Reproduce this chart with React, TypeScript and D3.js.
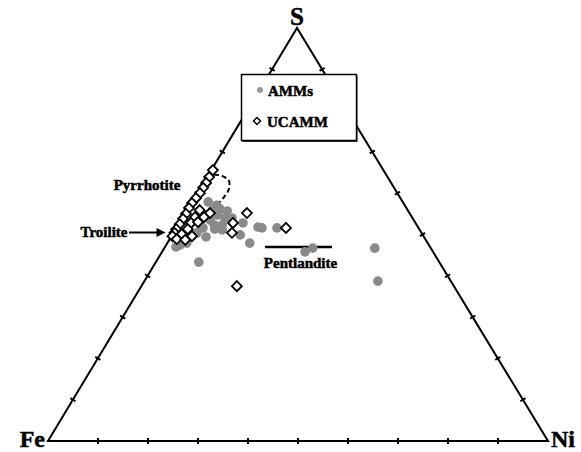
import React from 'react';
import * as d3 from 'd3';

const W = 581;
const H = 452;

// Ternary compositions (at.%)
const ammsFe = [38.9, 37.6, 39.0, 37.4, 38.6, 37.5, 36.2, 38.9, 40.5, 43.1, 34.5, 32.0, 28.3, 36.5, 39.5, 35.6, 25.6, 23.6, 11.2, 14.6, 48.1, 49.7, 48.2, 44.9, 43.6, 40.9, 36.1, 31.3, 50.8, 40.7, 41.2];
const ammsNi = [3.2, 5.3, 5.1, 6.4, 6.7, 8.5, 8.1, 8.8, 7.2, 5.3, 12.7, 16.2, 20.1, 13.6, 9.4, 16.5, 28.6, 29.7, 42.1, 46.7, 8.6, 2.8, 3.9, 4.7, 7.0, 7.8, 9.9, 17.1, 2.2, 5.8, 4.1];
const ammsS = [57.9, 57.1, 55.9, 56.2, 54.7, 54.0, 55.7, 52.3, 52.3, 51.6, 52.8, 51.8, 51.6, 49.9, 51.1, 47.9, 45.8, 46.7, 46.7, 38.7, 43.3, 47.5, 47.9, 50.4, 49.4, 51.3, 54.0, 51.6, 47.0, 53.5, 54.7];

const ucammFe = [34.1, 35.7, 37.0, 38.2, 39.5, 40.9, 42.3, 43.5, 41.6, 39.9, 44.8, 43.4, 46.0, 44.9, 47.3, 46.3, 48.6, 43.4, 49.4, 48.1, 50.2, 49.7, 48.1, 46.3, 32.5, 36.5, 37.9, 26.5, 43.4, 41.6];
const ucammNi = [0.3, 0.4, 0.5, 0.5, 0.5, 0.3, 0.1, 0.1, 2.5, 4.9, 0.2, 2.4, 0.2, 2.3, 0.2, 2.4, 0.1, 3.6, 0.2, 1.8, 0.2, 1.4, 3.2, 4.1, 12.3, 10.7, 11.7, 21.9, 19.1, 4.2];
const ucammS = [65.6, 63.9, 62.5, 61.3, 60.0, 58.8, 57.6, 56.4, 55.9, 55.2, 55.0, 54.2, 53.8, 52.8, 52.5, 51.3, 51.3, 53.0, 50.4, 50.1, 49.6, 48.9, 48.7, 49.6, 55.2, 52.8, 50.4, 51.6, 37.5, 54.2];

// Pentlandite field (bar)
const pentFe = [33.0, 19.6];
const pentNi = [20.0, 33.4];
const pentS = [47.0, 47.0];

// Pyrrhotite field (dashed outline)
const pyrFe = [36.3, 34.9, 33.0, 32.2, 33.2, 35.1, 37.2];
const pyrNi = [0.0, 0.7, 2.8, 4.8, 5.8, 5.8, 5.4];
const pyrS = [63.7, 64.4, 64.2, 63.0, 61.0, 59.1, 57.4];

const tickValues = [10, 20, 30, 40, 50, 60, 70, 80, 90];
const vertexLabels = ['Fe', 'Ni', 'S'];
const legendLabels = ['AMMs', 'UCAMM'];

const APEX = 0.498;
const xS = d3.scaleLinear().domain([0, 1]).range([48, 548]);
const yS = d3.scaleLinear().domain([0, 1]).range([441, 28]);

function project(fe: number, ni: number, s: number): [number, number] {
  const t = fe + ni + s;
  const a = ni / t;
  const c = s / t;
  return [xS(a + c * APEX), yS(c)];
}

const FONT = '"Liberation Serif", "Times New Roman", serif';
const GRAY = '#8a8a8a';

function diamond(cx: number, cy: number, r: number) {
  return `M${cx},${cy - r}L${cx + r},${cy}L${cx},${cy + r}L${cx - r},${cy}Z`;
}

const textStyle = { stroke: '#000', strokeWidth: 0.5 };

export default function App() {
  const pFe = project(100, 0, 0);
  const pNi = project(0, 100, 0);
  const pS = project(0, 0, 100);

  const edges: { from: number[]; to: number[] }[] = [
    { from: [100, 0, 0], to: [0, 100, 0] },
    { from: [100, 0, 0], to: [0, 0, 100] },
    { from: [0, 100, 0], to: [0, 0, 100] },
  ];

  const ticks: JSX.Element[] = [];
  edges.forEach((e, ei) => {
    const a = project(e.from[0], e.from[1], e.from[2]);
    const b = project(e.to[0], e.to[1], e.to[2]);
    const dx = b[0] - a[0];
    const dy = b[1] - a[1];
    const len = Math.hypot(dx, dy);
    const nx = -dy / len;
    const ny = dx / len;
    tickValues.forEach((v) => {
      const f = v / 100;
      const comp = [0, 1, 2].map((k) => e.from[k] * (1 - f) + e.to[k] * f);
      const p = project(comp[0], comp[1], comp[2]);
      ticks.push(
        <line
          key={`t${ei}-${v}`}
          x1={p[0] - nx * 3}
          y1={p[1] - ny * 3}
          x2={p[0] + nx * 3}
          y2={p[1] + ny * 3}
          stroke="#000"
          strokeWidth={2}
        />
      );
    });
  });

  const pyrPts = pyrFe.map((_, i) => project(pyrFe[i], pyrNi[i], pyrS[i]));
  const pyrPath = d3.line().curve(d3.curveCatmullRom.alpha(0.5))(pyrPts as [number, number][]) || '';

  const pent0 = project(pentFe[0], pentNi[0], pentS[0]);
  const pent1 = project(pentFe[1], pentNi[1], pentS[1]);

  const troilite = project(50, 0, 50);
  const arrowTip = [troilite[0] - 7, troilite[1] - 2];

  return (
    <svg width={W} height={H} style={{ position: 'absolute', left: 0, top: 0 }} fontFamily={FONT}>
      <rect width={W} height={H} fill="#fff" />
      <path
        d={`M${pFe[0]},${pFe[1]}L${pNi[0]},${pNi[1]}L${pS[0]},${pS[1]}Z`}
        fill="none"
        stroke="#000"
        strokeWidth={2}
        strokeLinejoin="miter"
      />
      {ticks}

      {/* Vertex labels */}
      <text x={pS[0]} y={25} textAnchor="middle" fontSize={25} fontWeight="bold" style={textStyle}>{vertexLabels[2]}</text>
      <text x={pFe[0] - 3} y={447} textAnchor="end" fontSize={24} fontWeight="bold" style={textStyle}>{vertexLabels[0]}</text>
      <text x={pNi[0] + 3} y={447} textAnchor="start" fontSize={24} fontWeight="bold" style={textStyle}>{vertexLabels[1]}</text>

      {/* Legend box */}
      <rect x={242.5} y={76} width={115} height={66} fill="#333" />
      <rect x={241.5} y={74.5} width={115} height={66} fill="#fff" stroke="#000" strokeWidth={1.5} />
      <circle cx={260} cy={90} r={3} fill="#999" />
      <text x={268} y={96} fontSize={15} fontWeight="bold" style={textStyle}>{legendLabels[0]}</text>
      <path d={diamond(257, 121, 3.5)} fill="#fff" stroke="#000" strokeWidth={1.5} />
      <text x={267} y={127} fontSize={15} fontWeight="bold" style={textStyle}>{legendLabels[1]}</text>

      {/* Pyrrhotite dashed field */}
      <path d={pyrPath} fill="none" stroke="#000" strokeWidth={2} strokeDasharray="5,3" />

      {/* Pentlandite bar */}
      <line x1={pent0[0]} y1={pent0[1]} x2={pent1[0]} y2={pent1[1]} stroke="#000" strokeWidth={2.5} />

      {/* AMMs */}
      {ammsFe.map((_, i) => {
        const p = project(ammsFe[i], ammsNi[i], ammsS[i]);
        return <circle key={`a${i}`} cx={p[0]} cy={p[1]} r={4.8} fill={GRAY} />;
      })}

      {/* UCAMM */}
      {ucammFe.map((_, i) => {
        const p = project(ucammFe[i], ucammNi[i], ucammS[i]);
        return <path key={`u${i}`} d={diamond(p[0], p[1], 5)} fill="#fff" stroke="#000" strokeWidth={1.8} />;
      })}

      {/* Annotations */}
      <text x={147} y={190} textAnchor="middle" fontSize={15} fontWeight="bold" style={textStyle}>Pyrrhotite</text>
      <text x={104} y={237} textAnchor="middle" fontSize={15} fontWeight="bold" style={textStyle}>Troilite</text>
      <line x1={129} y1={arrowTip[1]} x2={arrowTip[0] - 6} y2={arrowTip[1]} stroke="#000" strokeWidth={2} />
      <path
        d={`M${arrowTip[0]},${arrowTip[1]}L${arrowTip[0] - 9},${arrowTip[1] - 4.5}L${arrowTip[0] - 9},${arrowTip[1] + 4.5}Z`}
        fill="#000"
      />
      <text x={(pent0[0] + pent1[0]) / 2 + 2} y={268} textAnchor="middle" fontSize={15} fontWeight="bold" style={textStyle}>Pentlandite</text>
    </svg>
  );
}
